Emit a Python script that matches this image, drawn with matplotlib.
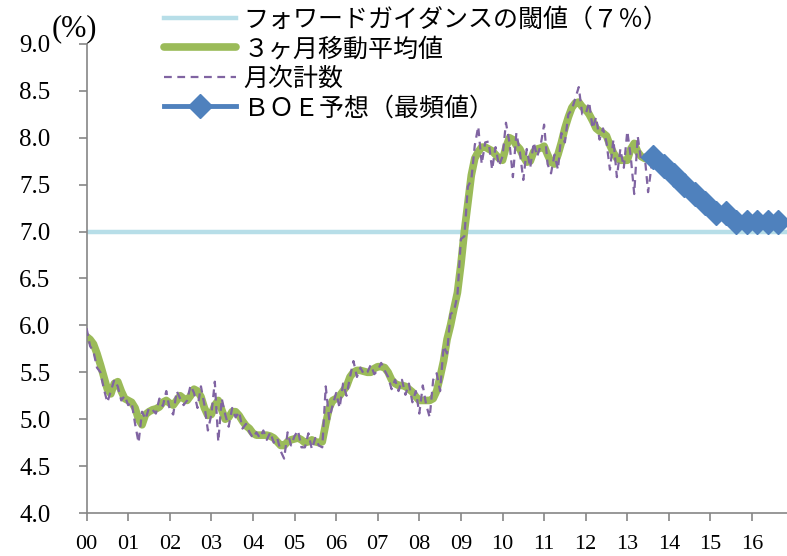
import numpy as np
import matplotlib
matplotlib.use("Agg")
import matplotlib.pyplot as plt

# 3ヶ月移動平均値 (monthly, Jan 2000 - Aug 2013)
avg3m = [
    5.88, 5.85, 5.80, 5.70, 5.58, 5.45, 5.32, 5.27, 5.38, 5.40, 5.30, 5.22,
    5.20, 5.18, 5.12, 5.00, 4.94, 5.05, 5.08, 5.10, 5.11, 5.13, 5.18, 5.20,
    5.17, 5.15, 5.20, 5.25, 5.22, 5.20, 5.25, 5.32, 5.30, 5.24, 5.12, 5.04,
    5.05, 5.15, 5.20, 5.10, 5.00, 5.02, 5.08, 5.08, 5.04, 4.98, 4.93, 4.90,
    4.85, 4.83, 4.83, 4.83, 4.83, 4.82, 4.80, 4.76, 4.72, 4.72, 4.76, 4.78,
    4.79, 4.80, 4.78, 4.75, 4.76, 4.78, 4.76, 4.75, 4.76, 4.95, 5.12, 5.20,
    5.22, 5.25, 5.30, 5.35, 5.45, 5.50, 5.52, 5.52, 5.51, 5.50, 5.50, 5.54,
    5.56, 5.56, 5.55, 5.50, 5.42, 5.38, 5.36, 5.36, 5.35, 5.32, 5.29, 5.24,
    5.20, 5.20, 5.20, 5.20, 5.22, 5.30, 5.45, 5.62, 5.85, 6.00, 6.18, 6.35,
    6.65, 7.00, 7.30, 7.60, 7.78, 7.85, 7.90, 7.90, 7.88, 7.86, 7.82, 7.78,
    7.76, 7.90, 8.00, 7.98, 7.92, 7.88, 7.80, 7.74, 7.75, 7.85, 7.88, 7.89,
    7.91, 7.82, 7.74, 7.72, 7.82, 7.95, 8.10, 8.22, 8.32, 8.37, 8.38, 8.33,
    8.30, 8.25, 8.18, 8.10, 8.07, 8.05, 8.02, 7.92, 7.84, 7.78, 7.76, 7.76,
    7.76, 7.88, 7.94, 7.85, 7.80, 7.78, 7.77, 7.75,
]

# 月次計数
monthly = [
    5.97, 5.78, 5.72, 5.55, 5.50, 5.32, 5.18, 5.30, 5.42, 5.35, 5.20, 5.25,
    5.15, 5.18, 4.95, 4.75, 5.08, 5.00, 5.12, 5.10, 5.06, 5.22, 5.14, 5.30,
    5.10, 5.05, 5.30, 5.22, 5.15, 5.20, 5.36, 5.28, 5.12, 5.35, 5.15, 4.88,
    5.05, 5.40, 4.76, 5.22, 5.05, 4.92, 5.12, 5.02, 5.08, 4.90, 4.95, 4.86,
    4.80, 4.86, 4.80, 4.88, 4.78, 4.86, 4.75, 4.80, 4.66, 4.58, 4.86, 4.72,
    4.82, 4.88, 4.70, 4.70, 4.85, 4.68, 4.80, 4.72, 4.70, 5.35, 5.00, 5.15,
    5.28, 5.12, 5.38, 5.25, 5.45, 5.62, 5.45, 5.55, 5.48, 5.50, 5.58, 5.48,
    5.52, 5.60, 5.52, 5.45, 5.32, 5.42, 5.30, 5.42, 5.26, 5.38, 5.18, 5.30,
    5.06, 5.36, 5.15, 5.02, 5.42, 5.49, 5.30, 5.78, 5.70, 6.12, 6.15, 6.32,
    6.92, 6.95, 7.48, 7.55, 7.92, 8.12, 7.72, 7.95, 7.96, 7.66, 7.90, 7.70,
    7.80, 8.16, 7.95, 7.58, 8.05, 7.85, 7.55, 7.88, 7.68, 7.95, 7.80, 7.92,
    8.14, 7.72, 7.62, 7.82, 7.66, 8.05, 7.95, 8.25, 8.30, 8.42, 8.54, 8.25,
    8.25, 8.38, 8.10, 8.22, 7.98, 8.10, 7.95, 7.66, 7.98, 7.58, 7.88, 7.68,
    8.07, 7.80, 7.40, 8.02, 7.75, 7.82, 7.42, 7.70,
]

# BOE予想（最頻値）, quarterly 2013Q3 - 2016Q3
boe_quarters = ["2013Q3", "2013Q4", "2014Q1", "2014Q2", "2014Q3", "2014Q4", "2015Q1",
                "2015Q2", "2015Q3", "2015Q4", "2016Q1", "2016Q2", "2016Q3"]
boe = [7.8, 7.7, 7.6, 7.5, 7.4, 7.3, 7.2, 7.2, 7.1, 7.1, 7.1, 7.1, 7.1]

threshold = 7.0
year_labels = ["00", "01", "02", "03", "04", "05", "06", "07", "08",
               "09", "10", "11", "12", "13", "14", "15", "16"]

x_month = np.arange(len(avg3m)) / 12
x_boe = np.array([int(q[:4]) - 2000 + (int(q[-1]) - 1) * 0.25 + 0.125 for q in boe_quarters])

fig = plt.figure(figsize=(7.87, 5.56), dpi=100)
ax = fig.add_axes([0.110, 0.0773, 0.890, 0.8437])

jp = ["Noto Sans CJK JP", "DejaVu Sans"]
num_font = "Liberation Serif"

h1 = ax.axhline(threshold, color="#B7DEE8", lw=3.2, zorder=1)
h2, = ax.plot(x_month, avg3m, color="#9BBB59", lw=5.5, solid_capstyle="round", zorder=2)
h3, = ax.plot(x_month, monthly, color="#8064A2", lw=1.6, dashes=(3.5, 2.5), zorder=3)
h4, = ax.plot(x_boe, boe, color="#4F81BD", lw=3.5, marker="D", markersize=12,
              markeredgecolor="#4F81BD", zorder=4, clip_on=False)

ax.set_xlim(0, 16.84)
ax.set_ylim(4, 9)
ax.set_xticks(range(len(year_labels)))
ax.set_xticklabels(year_labels, fontfamily=num_font, fontsize=16)
yt = np.arange(4.0, 9.01, 0.5)
ax.set_yticks(yt)
ax.set_yticklabels([f"{v:.1f}" for v in yt], fontfamily=num_font, fontsize=18)

for s in ["top", "right"]:
    ax.spines[s].set_visible(False)
for s in ["left", "bottom"]:
    ax.spines[s].set_color("#868686")
    ax.spines[s].set_linewidth(1.2)
ax.tick_params(axis="both", direction="out", length=6, width=1.2, color="#868686",
               labelcolor="black")
ax.tick_params(axis="x", pad=10)
ax.tick_params(axis="y", pad=20)

fig.text(0.066, 0.948, "(%)", fontfamily=num_font, fontsize=22, va="center", ha="left")

leg = fig.legend([h1, h2, h3, h4],
                 ["フォワードガイダンスの閾値（７％）", "３ヶ月移動平均値", "月次計数", "ＢＯＥ予想（最頻値）"],
                 loc="upper left", bbox_to_anchor=(0.208, 0.988), frameon=False,
                 prop={"family": jp, "size": 18}, handlelength=2.9, labelspacing=0.14,
                 handletextpad=0.3, borderaxespad=0, borderpad=0)

fig.savefig("out.png", dpi=100)
